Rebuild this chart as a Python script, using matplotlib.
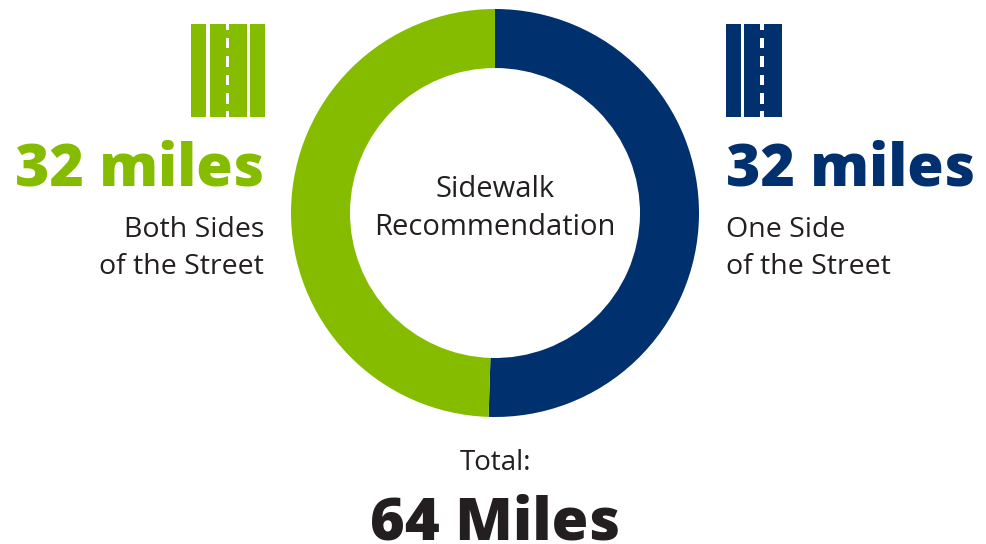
import matplotlib.pyplot as plt
from matplotlib.patches import Rectangle

# data
side_labels = ["One Side\nof the Street", "Both Sides\nof the Street"]
shares = [50.5, 49.5]
miles = [32, 32]
total = 64

BLUE = "#00306e"
GREEN = "#86bc00"
DARK = "#231f20"
FONT = "Open Sans"
H = 544


def drawRoad(ax, bars, dash_x, color):
    # solid lanes first, then the white centre line on top
    for x0, x1 in bars:
        ax.add_patch(Rectangle((x0, H - 117), x1 - x0, 93, fc=color, ec="none"))
    for y0, y1 in [(24, 30), (37.5, 48), (56, 66.5), (74.5, 85), (92.5, 103.5), (111, 117)]:
        ax.add_patch(Rectangle((dash_x - 1.7, H - y1), 3.4, y1 - y0, fc="white", ec="none"))


def label(x, y, s, size, color=DARK, ha="center", weight="normal", linespacing=1.2):
    ax.text(x, H - y, s, fontsize=size, color=color, ha=ha, va="baseline", family=FONT,
            fontweight=weight, linespacing=linespacing)


fig = plt.figure(figsize=(9.86, 5.44), dpi=100)
ax = fig.add_axes([0, 0, 1, 1])

# clockwise from 12 o'clock
ax.pie(shares, colors=[BLUE, GREEN], startangle=90, counterclock=False,
       center=(495, H - 213), radius=204, frame=False,
       wedgeprops=dict(width=59, linewidth=0))

ax.set_xlim(0, 986)
ax.set_ylim(0, H)
ax.set_aspect("equal")
ax.axis("off")

drawRoad(ax, [(191, 206), (209.5, 247), (250, 265)], 227.7, GREEN)
drawRoad(ax, [(726, 741), (744, 781.5)], 762, BLUE)

label(264, 185, f"{miles[1]} miles", 42.4, GREEN, ha="right", weight="heavy")
label(726, 185, f"{miles[0]} miles", 42.4, BLUE, ha="left", weight="heavy")

label(264, 274, side_labels[1], 20.5, ha="right", linespacing=1.43)
label(726, 274, side_labels[0], 20.5, ha="left", linespacing=1.43)

label(495, 235, "Sidewalk\nRecommendation", 21, linespacing=1.4)
label(495, 470, "Total:", 20)
label(495, 540, f"{total} Miles", 42.8, weight="heavy")

fig.savefig("out.png", dpi=100)
